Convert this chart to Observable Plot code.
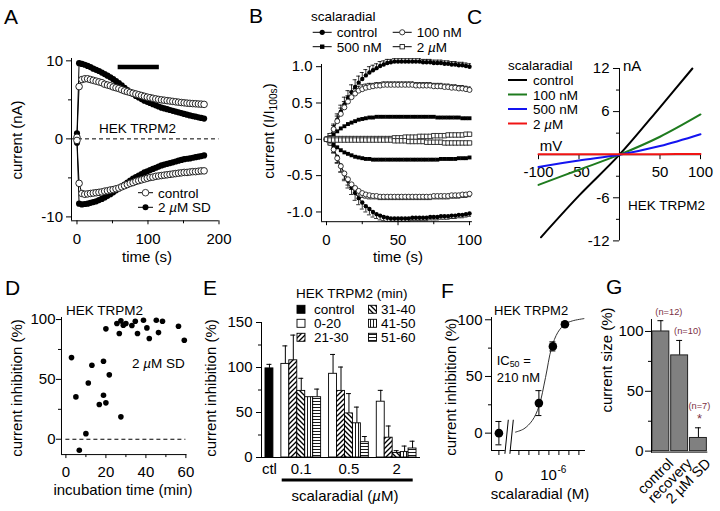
<!DOCTYPE html>
<html><head><meta charset="utf-8">
<script src="https://cdn.jsdelivr.net/npm/d3@7"></script>
<script src="https://cdn.jsdelivr.net/npm/@observablehq/plot@0.6"></script>
<style>
html,body{margin:0;padding:0;background:#fff;}
#fig{position:relative;width:720px;height:511px;overflow:hidden;background:#fff;font-family:"Liberation Sans",Arial,Helvetica,sans-serif;}
.pnl{position:absolute;}
#ov{position:absolute;left:0;top:0;pointer-events:none;font-family:"Liberation Sans",Arial,Helvetica,sans-serif;}
</style></head><body><div id="fig"></div>
<script>
// ================= DATA =================
// A: HEK TRPM2 currents (nA) vs time (s)
const aTime = [0,3,7,11,15,19,23,27,31,35,39,43,47,51,55,59,63,67,71,75,79,83,87,91,95,99,103,107,111,115,119,123,127,131,135,139,143,147,151,155,159,163,167,171,175,179];
const aCtrlOut = [0.2,6.7,7.6,7.7,7.7,7.6,7.5,7.4,7.3,7.2,7.0,6.9,6.8,6.65,6.55,6.45,6.3,6.15,6.05,5.95,5.85,5.75,5.65,5.55,5.45,5.35,5.28,5.2,5.12,5.05,5.0,4.95,4.9,4.85,4.8,4.75,4.7,4.66,4.62,4.58,4.55,4.52,4.5,4.47,4.45,4.42];
const aSdOut = [0.7,9.7,9.6,9.5,9.35,9.2,9.0,8.85,8.7,8.5,8.3,8.1,7.9,7.65,7.4,7.15,6.85,6.55,6.25,6.0,5.75,5.5,5.3,5.1,4.9,4.75,4.6,4.45,4.3,4.15,4.0,3.9,3.8,3.7,3.6,3.5,3.4,3.3,3.2,3.1,3.0,2.92,2.84,2.76,2.68,2.6];
const aCtrlIn = [-0.2,-5.7,-7.0,-7.1,-7.05,-7.0,-6.95,-6.9,-6.85,-6.8,-6.7,-6.65,-6.55,-6.5,-6.4,-6.3,-6.15,-6.0,-5.85,-5.7,-5.6,-5.45,-5.35,-5.25,-5.15,-5.05,-4.95,-4.9,-4.8,-4.75,-4.7,-4.65,-4.6,-4.55,-4.5,-4.45,-4.4,-4.35,-4.3,-4.3,-4.25,-4.2,-4.2,-4.15,-4.1,-4.1];
const aSdIn = [-0.5,-8.3,-8.4,-8.35,-8.3,-8.2,-8.1,-8.0,-7.85,-7.7,-7.5,-7.3,-7.1,-6.85,-6.6,-6.35,-6.1,-5.85,-5.6,-5.35,-5.1,-4.9,-4.7,-4.5,-4.3,-4.15,-4.0,-3.85,-3.7,-3.55,-3.4,-3.3,-3.2,-3.1,-3.0,-2.9,-2.8,-2.7,-2.6,-2.55,-2.5,-2.42,-2.35,-2.28,-2.2,-2.12];
const aDrug = {start: 58, end: 116, level: 9.2};
const aYMajor = [-10, 0, 10], aYMinor = [-5, 5], aXMajor = [0, 100, 200], aXMinor = [50, 150];

// B: normalized current (I/I100s) vs time (s)
const bTime = [0,2.5,5,7.5,10,12.5,15,17.5,20,22.5,25,27.5,30,32.5,35,37.5,40,42.5,45,47.5,50,52.5,55,57.5,60,62.5,65,67.5,70,72.5,75,77.5,80,82.5,85,87.5,90,92.5,95,97.5,100];
const bCtrlUp = [0,.05,.15,.27,.38,.48,.57,.65,.72,.78,.83,.88,.92,.95,.98,1.01,1.03,1.05,1.06,1.07,1.07,1.07,1.07,1.07,1.07,1.07,1.07,1.06,1.06,1.06,1.05,1.05,1.05,1.04,1.04,1.03,1.03,1.02,1.02,1.01,1.0];
const bCtrlDn = [0,-.04,-.12,-.24,-.36,-.47,-.57,-.66,-.74,-.81,-.87,-.92,-.96,-1.0,-1.03,-1.05,-1.07,-1.08,-1.09,-1.09,-1.09,-1.09,-1.09,-1.09,-1.08,-1.08,-1.08,-1.08,-1.08,-1.07,-1.07,-1.07,-1.06,-1.06,-1.06,-1.05,-1.05,-1.04,-1.04,-1.03,-1.02];
const b100Up = [0,.05,.14,.25,.35,.44,.52,.58,.63,.67,.69,.71,.72,.73,.74,.74,.75,.75,.75,.75,.75,.75,.75,.75,.75,.74,.74,.74,.74,.74,.73,.73,.73,.72,.72,.71,.71,.70,.70,.69,.68];
const b100Dn = [0,-.05,-.14,-.26,-.37,-.47,-.55,-.62,-.67,-.71,-.74,-.76,-.77,-.78,-.78,-.79,-.79,-.79,-.79,-.79,-.79,-.79,-.79,-.79,-.79,-.79,-.79,-.79,-.79,-.79,-.78,-.78,-.78,-.78,-.78,-.77,-.77,-.77,-.76,-.76,-.75];
const b500Up = [0,.03,.07,.11,.15,.18,.21,.23,.25,.27,.28,.29,.30,.30,.31,.31,.31,.31,.31,.31,.31,.31,.31,.31,.31,.31,.31,.31,.31,.31,.31,.30,.30,.30,.30,.30,.30,.30,.29,.29,.29];
const b500Dn = [0,-.03,-.07,-.11,-.15,-.18,-.2,-.22,-.24,-.25,-.26,-.27,-.27,-.28,-.28,-.28,-.28,-.28,-.28,-.28,-.28,-.28,-.28,-.28,-.28,-.28,-.28,-.28,-.28,-.28,-.28,-.28,-.27,-.27,-.27,-.27,-.27,-.26,-.26,-.26,-.25];
const b2Up = [0,.01,.01,.01,.01,.01,.01,.01,.01,.01,.01,.01,.01,.01,.01,.01,.01,.01,.01,.02,.02,.02,.03,.03,.03,.03,.04,.04,.04,.04,.05,.05,.05,.05,.06,.06,.06,.06,.06,.07,.07];
const b2Dn = [0,-.01,-.01,-.01,-.01,-.01,-.01,-.01,-.01,-.01,-.01,-.01,-.01,-.01,-.01,-.01,-.01,-.01,-.01,-.02,-.02,-.02,-.02,-.03,-.03,-.03,-.03,-.03,-.04,-.04,-.04,-.04,-.04,-.05,-.05,-.05,-.05,-.05,-.05,-.05,-.05];
const bErrCtrl = [0,.03,.06,.08,.09,.1,.1,.1,.1,.09,.09,.08,.08,.07,.06,.06,.05,.05,.04,.04,.04,.04,.04,.04,.04,.04,.04,.04,.04,.04,.04,.04,.04,.04,.04,.04,.04,.04,.04,.04,.04];
const bErr100 = [0,.03,.05,.07,.08,.08,.08,.07,.07,.06,.06,.05,.05,.04,.04,.04,.04,.04,.04,.04,.04,.04,.04,.04,.04,.04,.04,.04,.04,.04,.04,.04,.04,.04,.04,.04,.04,.04,.04,.04,.04];
const bNames = ["control", "100 nM", "500 nM", "2 µM"];
const bYTicks = [-1, -0.5, 0, 0.5, 1], bXMajor = [0, 50, 100], bXMinor = [25, 75];

// C: I-V relations (nA vs mV)
const cCtrlMv = [-97, -50, 0, 50, 90];
const cCtrlNa = [-11.5, -5.7, 0, 6.6, 12.0];
const cMv = [-100, -50, 0, 50, 100];
const c100Na = [-4.2, -2.1, 0, 2.5, 5.6];
const c500Na = [-1.7, -0.8, 0, 1.2, 2.85];
const c2Na = [0.05, 0.05, 0.05, 0.07, 0.1];
const cNames = ["control", "100 nM", "500 nM", "2 µM"];
const cColors = ["#000000", "#1e7b1e", "#1414f0", "#f01414"];
const cYMajor = [-12, -6, 6, 12], cYMinor = [-9, -3, 3, 9], cXTicks = [-100, -50, 50, 100];

// D: inhibition (%) vs incubation time (min)
const dTime = [2.8,5,6.7,10,11.2,13,16.7,18.8,18.8,20,20,21.7,25.5,26.7,27.5,27.5,28.7,30,33,34.7,35.8,38.8,40.5,41.7,45.2,46.3,48.3,56.3,59.2];
const dInhib = [68.2,35.4,-9.2,4.7,47,61.8,29,36.8,65.2,30.4,92.2,53.8,96.7,88.3,18.7,98.9,95.3,96.7,95,98.6,88.3,99.4,93,84.1,99.4,89.1,98.6,94.4,82.7];
const dYMajor = [0, 50, 100], dYMinor = [25, 75], dXMajor = [0, 20, 40, 60], dXMinor = [10, 30, 50];

// E: current (%) per concentration and incubation-time bin
const eCtl = 99, eCtlErr = 4.5;
const eConcs = ["0.1", "0.5", "2"];
const eBins = ["0-20", "21-30", "31-40", "41-50", "51-60"];
const eVals = [[104, 108, 74, 67, 67], [93, 74, 49, 38, 17], [62, 22, 5, 6, 10]];
const eErrs = [[20, 28, 14, 0, 9], [21.5, 26.5, 22, 18, 6.3], [12.6, 13, 2.6, 6.7, 8.1]];
const eYMajor = [0, 50, 100, 150], eYMinor = [25, 75, 125];

// F: concentration-response
const fConc = [0, 1e-7, 5e-7, 2e-6];
const fInhib = [0, 26.5, 76.5, 96];
const fErr = [10.3, 11, 4, 2];
const fFitLog = [-8.17, -7.75, -7.33, -7.0, -6.67, -6.37, -6.05, -5.70, -5.33, -4.75];
const fFitInh = [0.9, 3.8, 11.2, 23.5, 49, 75, 89, 96, 99, 101];
const fTicks = [-8, -7.5, -7, -6.5, -6, -5.5, -5];
const fYMajor = [0, 50, 100], fYMinor = [25, 75];

// G: current size (%)
const gCats = ["control", "recovery", "2 µM SD"];
const gVals = [100, 80, 11];
const gErrs = [9, 12.5, 8.5];
const gN = ["(n=12)", "(n=10)", "(n=7)"];
const gYMajor = [0, 50, 100], gYMinor = [25, 75];

// ================= LAYOUT =================
const FONT = '"Liberation Sans", Arial, Helvetica, sans-serif';
const fig = document.getElementById("fig");
const baseStyle = {fontFamily: FONT, fontSize: "15px", background: "transparent", overflow: "visible", color: "#000"};
function mount(g, opts) {
  const ml = 60, mr = 30, mt = 30, mb = 60;
  const w = g.px1 - g.px0 + ml + mr, h = g.py1 - g.py0 + mt + mb;
  const svg = Plot.plot({width: w, height: h, marginLeft: ml, marginRight: mr, marginTop: mt, marginBottom: mb, style: baseStyle, ...opts});
  const div = document.createElement("div");
  div.className = "pnl";
  div.style.left = (g.px0 - ml) + "px";
  div.style.top = (g.py0 - mt) + "px";
  div.style.width = w + "px";
  div.appendChild(svg);
  fig.appendChild(div);
}
const blank = () => "";

// ---------- Panel A ----------
const gA = {px0: 70.5, px1: 218, py0: 57.7, py1: 220};
const aXDom = [-7.7, 200], aYDom = [-10.5, 10.3];
const aRows = [];
[["ctrl", "out", aCtrlOut], ["sd", "out", aSdOut], ["ctrl", "in", aCtrlIn], ["sd", "in", aSdIn]].forEach(([cond, dir, vals]) =>
  aTime.forEach((t, i) => aRows.push({t, v: vals[i], cond, key: cond + dir})));
mount(gA, {
  x: {domain: aXDom}, y: {domain: aYDom},
  marks: [
    Plot.ruleY([0], {strokeDasharray: "4,3", strokeWidth: 1}),
    Plot.ruleY([aDrug], {y: "level", x1: "start", x2: "end", strokeWidth: 4.5}),
    Plot.line(aRows, {x: "t", y: "v", z: "key", stroke: "#000", strokeWidth: 1}),
    Plot.dot(aRows.filter(d => d.cond === "sd"), {x: "t", y: "v", r: 3.1, fill: "#000"}),
    Plot.dot(aRows.filter(d => d.cond === "ctrl"), {x: "t", y: "v", r: 3.3, fill: "#fff", stroke: "#222", strokeWidth: 1}),
    Plot.ruleX([aXDom[0]]), Plot.ruleY([aYDom[0]]),
    Plot.axisY({ticks: aYMajor, tickFormat: String, tickSize: 5, tickPadding: 3.5, label: null}),
    Plot.axisY({ticks: aYMinor, tickFormat: blank, tickSize: 3, label: null}),
    Plot.axisX({ticks: aXMajor, tickFormat: String, tickSize: 4, tickPadding: 8.6, label: null}),
    Plot.axisX({ticks: aXMinor, tickFormat: blank, tickSize: 3, label: null})
  ]
});

// ---------- Panel B ----------
const gB = {px0: 321, px1: 471.9, py0: 63.5, py1: 220.7};
const bXDom = [-3.5, 102], bYDom = [-1.134, 1.03];
const bSeries = [
  {name: bNames[0], up: bCtrlUp, dn: bCtrlDn, err: bErrCtrl, symbol: "circle", filled: true},
  {name: bNames[1], up: b100Up, dn: b100Dn, err: bErr100, symbol: "circle", filled: false},
  {name: bNames[2], up: b500Up, dn: b500Dn, err: null, symbol: "square", filled: true},
  {name: bNames[3], up: b2Up, dn: b2Dn, err: null, symbol: "square", filled: false}
];
const bRows = [], bErrRows = [];
bSeries.forEach((s, k) => {
  bTime.forEach((t, i) => {
    bRows.push({t, v: s.up[i], s: k, key: k + "u"});
    bRows.push({t, v: s.dn[i], s: k, key: k + "d"});
    if (s.err && s.err[i] > 0) {
      bErrRows.push({t, v: s.up[i], e: s.up[i] + s.err[i]});
      bErrRows.push({t, v: s.dn[i], e: s.dn[i] - s.err[i]});
    }
  });
});
const bDotMarks = bSeries.map((s, k) => Plot.dot(bRows.filter(d => d.s === k), {
  x: "t", y: "v", symbol: s.symbol, r: s.filled ? 2.2 : 2.5,
  fill: s.filled ? "#000" : "#fff", stroke: s.filled ? "none" : "#222", strokeWidth: 0.9
}));
mount(gB, {
  x: {domain: bXDom}, y: {domain: bYDom},
  marks: [
    Plot.ruleX(bErrRows, {x: "t", y1: "v", y2: "e", strokeWidth: 0.8}),
    Plot.ruleY(bErrRows, {y: "e", x1: "t", x2: "t", insetLeft: -2, insetRight: -2, strokeWidth: 0.8}),
    Plot.line(bRows, {x: "t", y: "v", z: "key", stroke: "#000", strokeWidth: 0.8}),
    ...bDotMarks,
    Plot.ruleX([bXDom[0]]), Plot.ruleY([bYDom[0]]),
    Plot.axisY({ticks: bYTicks, tickFormat: d => d === 0 ? "0" : d.toFixed(1), tickSize: 5, tickPadding: 4, label: null}),
    Plot.axisX({ticks: bXMajor, tickFormat: String, tickSize: 4, tickPadding: 8.2, label: null}),
    Plot.axisX({ticks: bXMinor, tickFormat: blank, tickSize: 3, label: null})
  ]
});

// ---------- Panel C ----------
const gC = {px0: 537.5, px1: 699.5, py0: 68.3, py1: 240.7};
const cXDom = [-100, 100], cYDom = [-12, 12];
const cRows = [];
[[cCtrlMv, cCtrlNa], [cMv, c100Na], [cMv, c500Na], [cMv, c2Na]].forEach(([mv, na], k) =>
  mv.forEach((m, i) => cRows.push({mv: m, na: na[i], s: k})));
mount(gC, {
  x: {domain: cXDom, axis: null}, y: {domain: cYDom, axis: null},
  marks: [
    Plot.ruleX([0]), Plot.ruleY([0]),
    Plot.ruleY(cYMajor, {y: d => d, x1: 0, x2: 0, insetLeft: -6}),
    Plot.ruleY(cYMinor, {y: d => d, x1: 0, x2: 0, insetLeft: -3}),
    Plot.text(cYMajor, {y: d => d, x: 0, text: d => String(d), textAnchor: "end", dx: -10}),
    Plot.ruleX(cXTicks, {x: d => d, y1: 0, y2: 0, insetBottom: -5}),
    Plot.text(cXTicks, {x: d => d, y: 0, text: d => String(d), dy: 17}),
    ...cColors.map((col, k) => Plot.line(cRows.filter(d => d.s === k), {x: "mv", y: "na", stroke: col, strokeWidth: 2, curve: "catmull-rom"}))
  ]
});

// ---------- Panel D ----------
const gD = {px0: 60.7, px1: 186.1, py0: 317.2, py1: 454.3};
const dXDom = [-2.2, 60.5], dYDom = [-12.8, 101.7];
const dRows = dTime.map((t, i) => ({t, v: dInhib[i]}));
mount(gD, {
  x: {domain: dXDom}, y: {domain: dYDom},
  marks: [
    Plot.ruleY([0], {x1: 0, x2: 60, strokeDasharray: "4,3"}),
    Plot.dot(dRows, {x: "t", y: "v", r: 2.8, fill: "#000"}),
    Plot.ruleX([dXDom[0]]), Plot.ruleY([dYDom[0]]),
    Plot.axisY({ticks: dYMajor, tickFormat: String, tickSize: 5, tickPadding: 1, label: null}),
    Plot.axisY({ticks: dYMinor, tickFormat: blank, tickSize: 3, label: null}),
    Plot.axisX({ticks: dXMajor, tickFormat: String, tickSize: 4, tickPadding: 8, label: null}),
    Plot.axisX({ticks: dXMinor, tickFormat: blank, tickSize: 3, label: null})
  ]
});

// ---------- Panel E ----------
const gE = {px0: 261, px1: 420, py0: 321.7, py1: 456.7};
const eYDom = [0, 150];
const eFill = {"control": "#000", "0-20": "#fff", "21-30": "url(#pE2130)", "31-40": "url(#pE3140)", "41-50": "url(#pE4150)", "51-60": "url(#pE5160)"};
const eRows = [{key: "ctl", bin: "control", value: eCtl, err: eCtlErr}];
const eDomain = ["ctl"];
const eTickKeys = ["ctl"], eTickText = {ctl: "ctl"};
eConcs.forEach((c, gi) => {
  eDomain.push("gap" + gi);
  eBins.forEach((b, bi) => {
    const key = c + "|" + b;
    eDomain.push(key);
    eRows.push({key, bin: b, value: eVals[gi][bi], err: eErrs[gi][bi]});
  });
  const mid = c + "|" + eBins[2];
  eTickKeys.push(mid); eTickText[mid] = c;
});
mount(gE, {
  x: {type: "band", domain: eDomain, paddingInner: 0, paddingOuter: 0.5, round: false},
  y: {domain: eYDom},
  color: {type: "identity"},
  marks: [
    Plot.ruleX(eRows.filter(d => d.err > 0), {x: "key", y1: "value", y2: d => d.value + d.err, strokeWidth: 1}),
    Plot.tickY(eRows.filter(d => d.err > 0), {x: "key", y: d => d.value + d.err, insetLeft: 1.5, insetRight: 1.5, strokeWidth: 1}),
    Plot.barY(eRows, {x: "key", y: "value", fill: d => eFill[d.bin], stroke: "#000", strokeWidth: 0.9}),
    Plot.frame({anchor: "left"}), Plot.ruleY([0]),
    Plot.axisY({ticks: eYMajor, tickFormat: String, tickSize: 5, tickPadding: 4, label: null}),
    Plot.axisY({ticks: eYMinor, tickFormat: blank, tickSize: 3, label: null}),
    Plot.axisX({ticks: eTickKeys, tickFormat: d => eTickText[d], tickSize: 0, tickPadding: 6, label: null})
  ]
});

// ---------- Panel F ----------
const gF = {px0: 491, px1: 585, py0: 317, py1: 450};
const fXDom = [-9.37, -4.67], fYDom = [-15.3, 102];
const fZeroPos = -9, fBreak = [-8.68, -8.43];
const fRows = fConc.map((c, i) => ({x: c === 0 ? fZeroPos : Math.log10(c), y: fInhib[i], lo: fInhib[i] - fErr[i], hi: fInhib[i] + fErr[i]}));
const fFit = fFitLog.map((x, i) => ({x, y: fFitInh[i]}));
const fBreakMarks = fBreak.map(b => ({x1: b - 0.02, y1: -18.2, x2: b + 0.15, y2: 11.8}));
mount(gF, {
  x: {domain: fXDom}, y: {domain: fYDom},
  marks: [
    Plot.line(fFit, {x: "x", y: "y", curve: "catmull-rom", stroke: "#333", strokeWidth: 1}),
    Plot.ruleX(fRows, {x: "x", y1: "lo", y2: "hi", strokeWidth: 1}),
    Plot.ruleY(fRows, {y: "lo", x1: "x", x2: "x", insetLeft: -3, insetRight: -3, strokeWidth: 1}),
    Plot.ruleY(fRows, {y: "hi", x1: "x", x2: "x", insetLeft: -3, insetRight: -3, strokeWidth: 1}),
    Plot.dot(fRows, {x: "x", y: "y", r: 4.3, fill: "#000"}),
    Plot.ruleX([fXDom[0]]),
    Plot.ruleY([fYDom[0]], {x1: fXDom[0], x2: fBreak[0]}),
    Plot.ruleY([fYDom[0]], {x1: fBreak[1], x2: fXDom[1]}),
    Plot.link(fBreakMarks, {x1: "x1", y1: "y1", x2: "x2", y2: "y2", strokeWidth: 1}),
    Plot.axisY({ticks: fYMajor, tickFormat: String, tickSize: 6, tickPadding: 3, label: null}),
    Plot.axisY({ticks: fYMinor, tickFormat: blank, tickSize: 3, label: null}),
    Plot.axisX({ticks: [fZeroPos], tickFormat: () => "0", tickSize: 5, tickPadding: 14.6, label: null}),
    Plot.axisX({ticks: fTicks, tickFormat: blank, tickSize: 5, label: null}),
    Plot.text([-6], {x: d => d, y: fYDom[0], text: () => "10", textAnchor: "end", dx: -2, dy: 25}),
    Plot.text([-6], {x: d => d, y: fYDom[0], text: () => "-6", textAnchor: "start", dx: -1.5, dy: 19.5, fontSize: 10})
  ]
});

// ---------- Panel G ----------
const gG = {px0: 651, px1: 707.3, py0: 319.1, py1: 451.7};
const gYDom = [-0.8, 110];
const gRows = gCats.map((c, i) => ({cat: c, v: gVals[i], top: gVals[i] + gErrs[i], n: gN[i]}));
mount(gG, {
  x: {type: "band", domain: gCats, paddingInner: 0.1, paddingOuter: 0.05, round: false, axis: null},
  y: {domain: gYDom},
  marks: [
    Plot.ruleX(gRows, {x: "cat", y1: "v", y2: "top", strokeWidth: 1}),
    Plot.tickY(gRows, {x: "cat", y: "top", insetLeft: 5.5, insetRight: 5.5, strokeWidth: 1}),
    Plot.barY(gRows, {x: "cat", y: "v", fill: "#808080", stroke: "#222", strokeWidth: 1}),
    Plot.frame({anchor: "left"}), Plot.ruleY([gYDom[0]]),
    Plot.axisY({ticks: gYMajor, tickFormat: String, tickSize: 6, tickPadding: 2, label: null}),
    Plot.axisY({ticks: gYMinor, tickFormat: blank, tickSize: 3, label: null}),
    Plot.text(gRows.slice(0, 2), {x: "cat", y: "top", text: "n", dx: 8, dy: -9, fontSize: 9.3, fill: "#7a3045"}),
    Plot.text(gRows.slice(2), {x: "cat", y: "top", text: "n", dx: 1, dy: -22, fontSize: 9.3, fill: "#7a3045"}),
    Plot.text(gRows.slice(2), {x: "cat", y: "top", text: () => "*", dx: 1, dy: -9, fontSize: 13, fill: "#7a3045"}),
    Plot.text(gRows, {x: "cat", y: gYDom[0], text: "cat", rotate: -45, textAnchor: "end", dx: 10, dy: 9, fontSize: 14.5})
  ]
});

// ================= OVERLAY TEXT / LEGENDS =================
const ov = d3.select("#fig").append("svg").attr("id", "ov").attr("width", 720).attr("height", 511);
const defs = ov.append("defs");
function pat(id, w, d, sw) {
  const p = defs.append("pattern").attr("id", id).attr("patternUnits", "userSpaceOnUse").attr("width", w).attr("height", w);
  p.append("rect").attr("width", w).attr("height", w).attr("fill", "#fff");
  p.append("path").attr("d", d).attr("stroke", "#000").attr("stroke-width", sw).attr("fill", "none");
}
pat("pE2130", 5, "M-1,1 L1,-1 M0,5 L5,0 M4,6 L6,4", 1.3);
pat("pE3140", 5, "M-1,4 L1,6 M0,0 L5,5 M4,-1 L6,1", 1.3);
pat("pE4150", 3, "M1.5,0 V3", 0.9);
pat("pE5160", 3, "M0,1.5 H3", 0.9);

function T(x, y, parts, o = {}) {
  const size = o.size ?? 15;
  const t = ov.append("text").attr("x", x).attr("y", y).attr("font-size", size)
    .attr("text-anchor", o.anchor ?? "start").attr("dominant-baseline", "central").attr("fill", o.fill ?? "#000");
  if (o.rot) t.attr("transform", `rotate(${o.rot} ${x} ${y})`);
  let shift = 0;
  for (const p of [].concat(parts)) {
    const q = typeof p === "string" ? {t: p} : p;
    const s = t.append("tspan").text(q.t);
    const target = q.sub ? 0.3 * size : q.sup ? -0.4 * size : 0;
    if (target !== shift) { s.attr("dy", target - shift); shift = target; }
    if (q.sub || q.sup) s.attr("font-size", size * 0.68);
    if (q.it) s.attr("font-style", "italic");
  }
}
function L(x1, y1, x2, y2, stroke = "#000", sw = 1) {
  ov.append("line").attr("x1", x1).attr("y1", y1).attr("x2", x2).attr("y2", y2).attr("stroke", stroke).attr("stroke-width", sw);
}
function sym(cx, cy, type, filled, r) {
  const el = type === "circle"
    ? ov.append("circle").attr("cx", cx).attr("cy", cy).attr("r", r)
    : ov.append("rect").attr("x", cx - r).attr("y", cy - r).attr("width", 2 * r).attr("height", 2 * r);
  el.attr("fill", filled ? "#000" : "#fff").attr("stroke", filled ? "none" : "#222").attr("stroke-width", 0.9);
}
const mu = {t: "µ", it: true};

// panel letters
[["A", 4, 16], ["B", 249, 15], ["C", 467, 16], ["D", 5, 287], ["E", 203, 287], ["F", 441, 290], ["G", 606, 286]]
  .forEach(([s, x, y]) => T(x, y, s, {size: 21}));

// A
T(16, 140, "current (nA)", {anchor: "middle", rot: -90});
T(147, 256, "time (s)", {anchor: "middle"});
T(137.5, 128, "HEK TRPM2", {anchor: "middle", size: 13.5});
L(138, 192.7, 153, 192.7); sym(145.5, 192.7, "circle", false, 3.3);
T(158, 192.7, "control", {size: 13.5});
L(138, 207.3, 153, 207.3); sym(145.5, 207.3, "circle", true, 3);
T(158, 207.3, ["2 ", mu, "M SD"], {size: 13.5});

// B
T(268, 131, ["current (I/I", {t: "100s", sub: true}, ")"], {anchor: "middle", rot: -90});
T(398, 256, "time (s)", {anchor: "middle"});
T(311, 16, "scalaradial", {size: 13.5});
[[0, 312.7, 32.3], [2, 312.7, 46.7], [1, 392.7, 32.3], [3, 392.7, 46.7]].forEach(([k, x, y]) => {
  const s = bSeries[k];
  L(x, y, x + 19, y, "#000", 1);
  sym(x + 9.5, y, s.symbol, s.filled, s.symbol === "square" ? 2.2 : 2.6);
  T(x + 24, y, k === 3 ? ["2 ", mu, "M"] : s.name, {size: 13.5});
});

// C
T(508, 65, "scalaradial", {size: 13.5});
cNames.forEach((n, k) => {
  const y = 80 + k * 14.5;
  L(508, y, 527, y, cColors[k], 2);
  T(533, y, k === 3 ? ["2 ", mu, "M"] : n, {size: 13.5});
});
T(623, 65, "nA", {size: 15});
T(551, 145, "mV", {size: 15, anchor: "middle"});
T(628, 205, "HEK TRPM2", {size: 13.5});

// D
T(16, 388, "current inhibition (%)", {anchor: "middle", rot: -90});
T(123, 489, "incubation time (min)", {anchor: "middle"});
T(66, 310, "HEK TRPM2", {size: 13.5});
T(132, 362.7, ["2 ", mu, "M SD"], {size: 13.5});

// E
T(210, 388, "current inhibition (%)", {anchor: "middle", rot: -90});
T(345, 495, ["scalaradial (", mu, "M)"], {anchor: "middle"});
L(281.7, 480, 412.7, 480, "#000", 3);
T(296, 293.3, "HEK TRPM2 (min)", {size: 13.5});
const eLegend = ["control", ...eBins];
eLegend.forEach((b, i) => {
  const col = i < 3 ? 0 : 1, row = i % 3;
  const x = col === 0 ? 297 : 368.5, y = 309.3 + row * 14;
  ov.append("rect").attr("x", x).attr("y", y - 4).attr("width", 8).attr("height", 8)
    .attr("fill", eFill[b]).attr("stroke", "#000").attr("stroke-width", 0.9);
  T(col === 0 ? 314 : 381, y, b, {size: 13.5});
});

// F
T(450, 387, "current inhibition (%)", {anchor: "middle", rot: -90});
T(540, 493, "scalaradial (M)", {anchor: "middle"});
T(494, 310, "HEK TRPM2", {size: 13});
T(496.7, 360, ["IC", {t: "50", sub: true}, " ="], {size: 13});
T(496.7, 376.7, "210 nM", {size: 13});

// G
T(606, 360, "current size (%)", {anchor: "middle", rot: -90});
</script>
</body></html>
